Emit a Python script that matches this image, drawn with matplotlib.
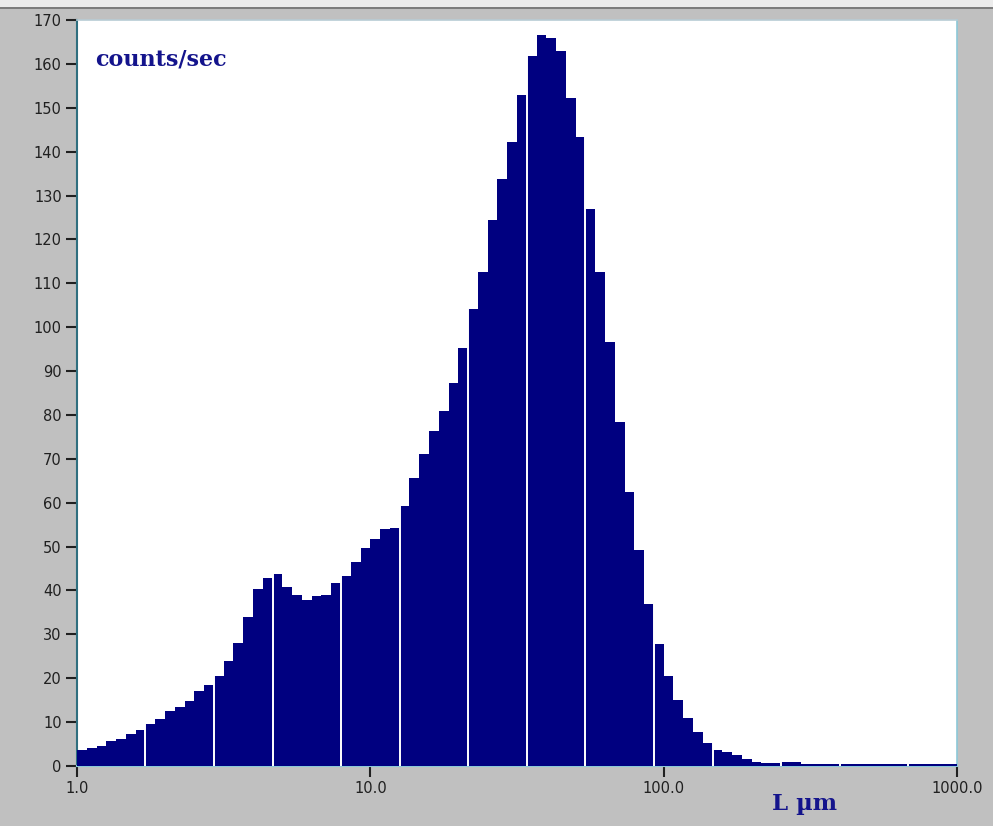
import matplotlib
matplotlib.use("Agg")
import matplotlib.pyplot as plt
from matplotlib.patches import Rectangle
import numpy as np

# 90 log-spaced size classes, 30 per decade, from 1 to 1000 um
bins_per_decade = 30
counts = [
    3.6, 4.0, 4.5, 5.8, 6.2, 7.4, 8.3, 9.5, 10.8, 12.5,
    13.4, 14.7, 17.1, 18.4, 20.5, 23.9, 28.1, 34.0, 40.3, 42.8,
    43.8, 40.7, 39.0, 37.9, 38.7, 39.0, 41.6, 43.3, 46.6, 49.6,
    51.7, 53.9, 54.3, 59.3, 65.7, 71.2, 76.3, 80.9, 87.3, 95.3,
    104.1, 112.6, 124.4, 133.8, 142.1, 152.8, 161.9, 166.6, 165.8, 162.9,
    152.3, 143.4, 127.0, 112.6, 96.6, 78.4, 62.4, 49.3, 37.0, 27.7,
    20.5, 15.0, 10.9, 7.8, 5.3, 3.6, 3.1, 2.4, 1.5, 1.0,
    0.7, 0.7, 0.8, 0.8, 0.4, 0.4, 0.4, 0.4, 0.4, 0.4,
    0.4, 0.4, 0.4, 0.4, 0.4, 0.4, 0.4, 0.4, 0.4, 0.4,
]
# bin edges where the instrument draws a white separator
separator_edges = [7, 14, 20, 27, 33, 40, 46, 52, 59, 65, 72, 78, 85]

y_ticks = list(range(0, 171, 10))
x_ticks = [1, 10, 100, 1000]
x_tick_labels = ["1.0", "10.0", "100.0", "1000.0"]

edges = 10 ** (np.arange(len(counts) + 1) / bins_per_decade)

fig = plt.figure(figsize=(9.93, 8.26), dpi=100, facecolor="#c0c0c0")
# thin light band with dark line along the top of the window
fig.patches.append(Rectangle((0, 1 - 7 / 826), 1, 7 / 826, transform=fig.transFigure,
                             facecolor="#ececec", edgecolor="none"))
fig.add_artist(plt.Line2D([0, 1], [1 - 7.5 / 826] * 2, transform=fig.transFigure,
                          color="#707070", lw=1.2))

ax = fig.add_axes([77 / 993, 60 / 826, 880 / 993, 746 / 826])
ax.set_facecolor("white")

ax.bar(edges[:-1], counts, width=np.diff(edges), align="edge",
       color="#000080", edgecolor="none", zorder=3)
# separators only run through the bars
for k in separator_edges:
    top = max(counts[k - 1], counts[k])
    ax.vlines(edges[k], 0, top, color="white", lw=1.4, zorder=4)

ax.set_xscale("log")
ax.set_xlim(1, 1000)
ax.set_ylim(0, 170)
ax.set_xticks(x_ticks)
ax.set_xticklabels(x_tick_labels)
ax.xaxis.set_minor_locator(matplotlib.ticker.NullLocator())
ax.set_yticks(y_ticks)

ax.tick_params(axis="both", direction="out", length=8, width=1.5, color="#202020",
               labelsize=10.5, labelcolor="#202020", pad=3)

ax.spines["left"].set_color("#2f6f7f")
ax.spines["left"].set_linewidth(1.5)
ax.spines["bottom"].set_color("#8cc8d8")
ax.spines["bottom"].set_linewidth(1.5)
ax.spines["right"].set_color("#8cc8d8")
ax.spines["right"].set_linewidth(1.2)
ax.spines["top"].set_color("#b8ccd4")
ax.spines["top"].set_linewidth(1.2)

fig.text(95 / 993, 1 - 60 / 826, "counts/sec", family="DejaVu Serif", weight="bold",
         fontsize=16, color="#14148c", ha="left", va="center")
fig.text(804 / 993, 1 - 804 / 826, "L µm", family="DejaVu Serif", weight="bold",
         fontsize=16.5, color="#14148c", ha="center", va="center")

fig.savefig("out.png", dpi=100, facecolor=fig.get_facecolor())
